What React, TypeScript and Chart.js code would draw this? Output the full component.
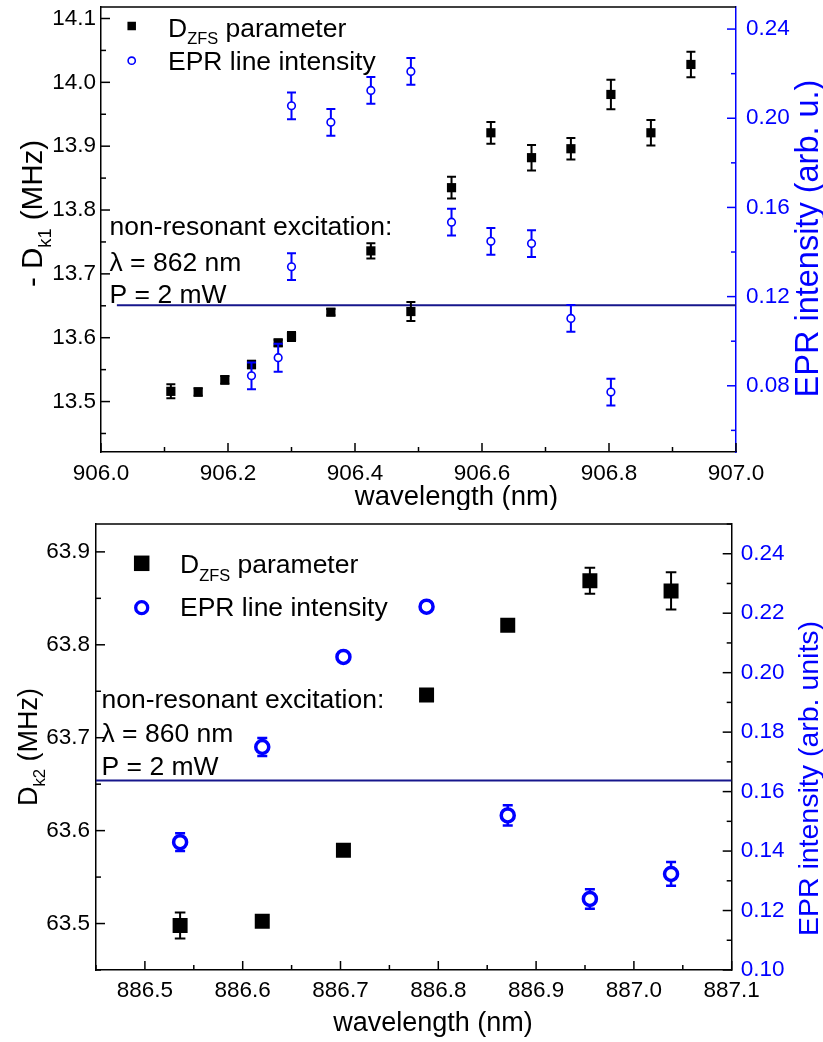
import React, { useEffect, useRef } from 'react';
import { Chart, registerables } from 'chart.js';

Chart.register(...registerables);

const FONT = "'Liberation Sans', Arial, Helvetica, sans-serif";
const BLUE = '#0000ff';
const NAVY = '#16168c';

// ---------- top panel (906 nm region) ----------
const wl1D = [906.110, 906.153, 906.195, 906.237, 906.279, 906.300, 906.362, 906.425, 906.488, 906.552, 906.614, 906.678, 906.740, 906.803, 906.866, 906.929];
const dzfs1 = [13.516, 13.515, 13.534, 13.558, 13.592, 13.602, 13.640, 13.736, 13.641, 13.835, 13.921, 13.882, 13.896, 13.981, 13.921, 14.028];
const dzfs1Err = [0.011, 0.006, 0.006, 0.006, 0.005, 0.007, 0.005, 0.012, 0.015, 0.017, 0.017, 0.020, 0.017, 0.023, 0.020, 0.020];
const wl1E = [906.237, 906.279, 906.300, 906.300, 906.362, 906.425, 906.488, 906.552, 906.614, 906.678, 906.740, 906.803];
const epr1 = [0.0845, 0.0926, 0.1334, 0.2056, 0.1982, 0.2125, 0.2210, 0.1534, 0.1448, 0.1438, 0.1102, 0.0772];
const epr1Err = [0.006, 0.0063, 0.006, 0.006, 0.006, 0.006, 0.006, 0.006, 0.006, 0.006, 0.006, 0.006];
const hline1X = [906.025, 907.0];
const hline1Y = 13.651;
const annot1 = ['non-resonant excitation:', 'λ = 862 nm', 'P = 2 mW'];

// ---------- bottom panel (886 nm region) ----------
const wl2 = [886.536, 886.620, 886.703, 886.788, 886.871, 886.955, 887.038];
const dzfs2 = [63.498, 63.5025, 63.579, 63.746, 63.821, 63.869, 63.858];
const dzfs2Err = [0.014, 0.004, 0.002, 0.002, 0.004, 0.014, 0.020];
const epr2 = [0.143, 0.175, 0.2053, 0.2222, 0.152, 0.1239, 0.1323];
const epr2Err = [0.003, 0.003, 0.001, 0.001, 0.0034, 0.0033, 0.004];
const hline2X = [886.45, 887.1];
const hline2Y = 63.654;
const annot2 = ['non-resonant excitation:', 'λ = 860 nm', 'P = 2 mW'];

type Part = { t: string; sub?: boolean };

function isMajor(v: number, step: number) {
  const r = v / step;
  return Math.abs(r - Math.round(r)) < 1e-6;
}

function partsWidth(ctx: CanvasRenderingContext2D, parts: Part[], size: number) {
  let w = 0;
  for (const p of parts) {
    ctx.font = `${p.sub ? size * 0.62 : size}px ${FONT}`;
    w += ctx.measureText(p.t).width;
  }
  return w;
}

function drawParts(ctx: CanvasRenderingContext2D, parts: Part[], x: number, y: number, size: number, center = false) {
  let cx = center ? x - partsWidth(ctx, parts, size) / 2 : x;
  ctx.textAlign = 'left';
  ctx.textBaseline = 'alphabetic';
  for (const p of parts) {
    const s = p.sub ? size * 0.62 : size;
    ctx.font = `${s}px ${FONT}`;
    ctx.fillText(p.t, cx, p.sub ? y + size * 0.29 : y);
    cx += ctx.measureText(p.t).width;
  }
}

const errorBarPlugin = {
  id: 'errorBars',
  beforeDatasetDraw(chart: any, args: any) {
    const ds = chart.data.datasets[args.index];
    if (!ds.errors) return;
    const meta = args.meta;
    const xs = chart.scales[meta.xAxisID];
    const ys = chart.scales[meta.yAxisID];
    const ctx = chart.ctx;
    ctx.save();
    ctx.strokeStyle = ds.errorColor;
    ctx.lineWidth = ds.errorWidth;
    ds.data.forEach((pt: any, j: number) => {
      const e = ds.errors[j];
      const px = xs.getPixelForValue(pt.x);
      const y1 = ys.getPixelForValue(pt.y + e);
      const y2 = ys.getPixelForValue(pt.y - e);
      const c = ds.capHalf;
      ctx.beginPath();
      ctx.moveTo(px, y1); ctx.lineTo(px, y2);
      ctx.moveTo(px - c, y1); ctx.lineTo(px + c, y1);
      ctx.moveTo(px - c, y2); ctx.lineTo(px + c, y2);
      ctx.stroke();
    });
    ctx.restore();
  },
};

type TickSpec = { id: string; major: number; color: string };

type Decor = {
  ticks: TickSpec[];
  frameColor: string;
  legend: { sq: [number, number, number]; circ: [number, number, number, number]; textX: number; y1: number; y2: number; size: number };
  annot: { x: number; ys: number[]; lines: string[]; size: number };
  xTitle: { x: number; y: number; size: number };
  yTitle: { x: number; y: number; parts: Part[]; size: number };
  rTitle: { x: number; y: number; text: string; size: number };
};

function makeDecorPlugin(d: Decor) {
  return {
    id: 'decor',
    afterDraw(chart: any) {
      const ctx: CanvasRenderingContext2D = chart.ctx;
      const a = chart.chartArea;
      ctx.save();
      // inward tick marks
      for (const t of d.ticks) {
        const s = chart.scales[t.id];
        ctx.strokeStyle = t.color;
        ctx.lineWidth = 1.5;
        for (const tk of s.ticks) {
          const len = isMajor(tk.value, t.major) ? 9 : 5;
          const p = s.getPixelForValue(tk.value);
          ctx.beginPath();
          if (s.isHorizontal()) {
            ctx.moveTo(p, a.bottom); ctx.lineTo(p, a.bottom - len);
          } else if (s.position === 'left') {
            ctx.moveTo(a.left, p); ctx.lineTo(a.left + len, p);
          } else {
            ctx.moveTo(a.right, p); ctx.lineTo(a.right - len, p);
          }
          ctx.stroke();
        }
      }
      // top frame line
      ctx.strokeStyle = d.frameColor;
      ctx.lineWidth = 1.5;
      ctx.beginPath();
      ctx.moveTo(a.left, a.top); ctx.lineTo(a.right, a.top);
      ctx.stroke();

      // legend
      const L = d.legend;
      ctx.fillStyle = '#000';
      ctx.fillRect(L.sq[0] - L.sq[2] / 2, L.sq[1] - L.sq[2] / 2, L.sq[2], L.sq[2]);
      ctx.beginPath();
      ctx.arc(L.circ[0], L.circ[1], L.circ[2], 0, Math.PI * 2);
      ctx.fillStyle = '#fff';
      ctx.fill();
      ctx.strokeStyle = BLUE;
      ctx.lineWidth = L.circ[3];
      ctx.stroke();
      ctx.fillStyle = '#000';
      drawParts(ctx, [{ t: 'D' }, { t: 'ZFS', sub: true }, { t: ' parameter' }], L.textX, L.y1, L.size);
      drawParts(ctx, [{ t: 'EPR line intensity' }], L.textX, L.y2, L.size);

      // annotation text
      d.annot.lines.forEach((ln, i) => {
        drawParts(ctx, [{ t: ln }], d.annot.x, d.annot.ys[i], d.annot.size);
      });

      // x title
      drawParts(ctx, [{ t: 'wavelength (nm)' }], d.xTitle.x, d.xTitle.y, d.xTitle.size, true);

      // left title (rotated)
      ctx.save();
      ctx.translate(d.yTitle.x, d.yTitle.y);
      ctx.rotate(-Math.PI / 2);
      drawParts(ctx, d.yTitle.parts, 0, 0, d.yTitle.size, true);
      ctx.restore();

      // right title (rotated, blue)
      ctx.save();
      ctx.fillStyle = BLUE;
      ctx.translate(d.rTitle.x, d.rTitle.y);
      ctx.rotate(-Math.PI / 2);
      drawParts(ctx, [{ t: d.rTitle.text }], 0, 0, d.rTitle.size, true);
      ctx.restore();

      ctx.restore();
    },
  };
}

function linScale(opts: {
  pos: 'left' | 'right' | 'bottom';
  min: number; max: number; step: number; major: number; digits: number;
  labelColor: string; borderColor: string; size: number; pad: number;
}) {
  const horizontal = opts.pos === 'bottom';
  return {
    type: 'linear',
    position: opts.pos,
    min: opts.min,
    max: opts.max,
    grid: { display: false, drawTicks: false },
    border: { display: true, color: opts.borderColor, width: 1.5 },
    ticks: {
      stepSize: opts.step,
      includeBounds: false,
      autoSkip: false,
      maxRotation: 0,
      minRotation: 0,
      padding: opts.pad,
      color: opts.labelColor,
      font: { size: 22.5, family: FONT },
      callback: (v: any) => (isMajor(Number(v), opts.major) ? Number(v).toFixed(opts.digits) : ''),
    },
    afterFit: (s: any) => {
      if (horizontal) s.height = opts.size;
      else s.width = opts.size;
      s.paddingTop = 0;
      s.paddingBottom = 0;
      s.paddingLeft = 0;
      s.paddingRight = 0;
    },
  };
}

function pts(xs: number[], ys: number[]) {
  return xs.map((x, i) => ({ x, y: ys[i] }));
}

function config1(): any {
  return {
    type: 'scatter',
    data: {
      datasets: [
        {
          label: 'hline',
          data: hline1X.map((x) => ({ x, y: hline1Y })),
          showLine: true,
          borderColor: NAVY,
          borderWidth: 2,
          pointRadius: 0,
          yAxisID: 'y',
          order: 3,
        },
        {
          label: 'D_ZFS parameter',
          data: pts(wl1D, dzfs1),
          errors: dzfs1Err,
          errorColor: '#000',
          errorWidth: 2,
          capHalf: 4.5,
          pointStyle: 'rect',
          pointRadius: 6.5,
          backgroundColor: '#000',
          borderWidth: 0,
          yAxisID: 'y',
          order: 2,
        },
        {
          label: 'EPR line intensity',
          data: pts(wl1E, epr1),
          errors: epr1Err,
          errorColor: BLUE,
          errorWidth: 2,
          capHalf: 4.5,
          pointStyle: 'circle',
          pointRadius: 3.8,
          backgroundColor: '#fff',
          borderColor: BLUE,
          borderWidth: 1.6,
          yAxisID: 'y1',
          order: 1,
        },
      ],
    },
    options: {
      animation: false,
      responsive: false,
      devicePixelRatio: 1,
      layout: { padding: { top: 7, left: 0, right: 0, bottom: 0 } },
      plugins: { legend: { display: false }, tooltip: { enabled: false } },
      scales: {
        x: linScale({ pos: 'bottom', min: 906.0, max: 907.0, step: 0.1, major: 0.2, digits: 1, labelColor: '#000', borderColor: '#000', size: 58, pad: 8 }),
        y: linScale({ pos: 'left', min: 13.421, max: 14.118, step: 0.05, major: 0.1, digits: 1, labelColor: '#000', borderColor: '#000', size: 101, pad: 5 }),
        y1: linScale({ pos: 'right', min: 0.0503, max: 0.2499, step: 0.02, major: 0.04, digits: 2, labelColor: BLUE, borderColor: BLUE, size: 87, pad: 10 }),
      },
    },
    plugins: [
      errorBarPlugin,
      makeDecorPlugin({
        ticks: [
          { id: 'x', major: 0.2, color: '#000' },
          { id: 'y', major: 0.1, color: '#000' },
          { id: 'y1', major: 0.04, color: BLUE },
        ],
        frameColor: '#000',
        legend: { sq: [131.7, 26, 8.5], circ: [131.7, 60.7, 3.6, 1.6], textX: 168, y1: 36.7, y2: 69.5, size: 26.5 },
        annot: { x: 109.5, ys: [235, 270.7, 303.3], lines: annot1, size: 26.5 },
        xTitle: { x: 456.5, y: 505, size: 27.5 },
        yTitle: { x: 42, y: 213.5, parts: [{ t: '- D' }, { t: 'k1', sub: true }, { t: ' (MHz)' }], size: 29.5 },
        rTitle: { x: 818, y: 238.5, text: 'EPR intensity (arb. u.)', size: 32.5 },
      }),
    ],
  };
}

function config2(): any {
  return {
    type: 'scatter',
    data: {
      datasets: [
        {
          label: 'hline',
          data: hline2X.map((x) => ({ x, y: hline2Y })),
          showLine: true,
          borderColor: NAVY,
          borderWidth: 2,
          pointRadius: 0,
          yAxisID: 'y',
          order: 3,
        },
        {
          label: 'D_ZFS parameter',
          data: pts(wl2, dzfs2),
          errors: dzfs2Err,
          errorColor: '#000',
          errorWidth: 2,
          capHalf: 5.3,
          pointStyle: 'rect',
          pointRadius: 10.6,
          backgroundColor: '#000',
          borderWidth: 0,
          yAxisID: 'y',
          order: 2,
        },
        {
          label: 'EPR line intensity',
          data: pts(wl2, epr2),
          errors: epr2Err,
          errorColor: BLUE,
          errorWidth: 2.5,
          capHalf: 5,
          pointStyle: 'circle',
          pointRadius: 6.5,
          backgroundColor: '#fff',
          borderColor: BLUE,
          borderWidth: 3.5,
          yAxisID: 'y1',
          order: 1,
        },
      ],
    },
    options: {
      animation: false,
      responsive: false,
      devicePixelRatio: 1,
      layout: { padding: { top: 14, left: 0, right: 0, bottom: 0 } },
      plugins: { legend: { display: false }, tooltip: { enabled: false } },
      scales: {
        x: linScale({ pos: 'bottom', min: 886.45, max: 887.1, step: 0.05, major: 0.1, digits: 1, labelColor: '#000', borderColor: '#000', size: 72, pad: 7 }),
        y: linScale({ pos: 'left', min: 63.45, max: 63.93, step: 0.05, major: 0.1, digits: 1, labelColor: '#000', borderColor: '#000', size: 96, pad: 6 }),
        y1: linScale({ pos: 'right', min: 0.10, max: 0.25, step: 0.01, major: 0.02, digits: 2, labelColor: BLUE, borderColor: '#000', size: 91.3, pad: 9 }),
      },
    },
    plugins: [
      errorBarPlugin,
      makeDecorPlugin({
        ticks: [
          { id: 'x', major: 0.1, color: '#000' },
          { id: 'y', major: 0.1, color: '#000' },
          { id: 'y1', major: 0.02, color: '#000' },
        ],
        frameColor: '#000',
        legend: { sq: [141.7, 53.3, 15.5], circ: [141.7, 97.7, 6, 3.3], textX: 180, y1: 63, y2: 106, size: 26.5 },
        annot: { x: 101.5, ys: [198, 231.7, 265], lines: annot2, size: 26.5 },
        xTitle: { x: 433, y: 521, size: 27 },
        yTitle: { x: 37, y: 237, parts: [{ t: 'D' }, { t: 'k2', sub: true }, { t: ' (MHz)' }], size: 27 },
        rTitle: { x: 818, y: 268.5, text: 'EPR intensity (arb. units)', size: 28.5 },
      }),
    ],
  };
}

export default function App() {
  const r1 = useRef<HTMLCanvasElement>(null);
  const r2 = useRef<HTMLCanvasElement>(null);

  useEffect(() => {
    const c1 = new Chart(r1.current as HTMLCanvasElement, config1());
    const c2 = new Chart(r2.current as HTMLCanvasElement, config2());
    return () => {
      c1.destroy();
      c2.destroy();
    };
  }, []);

  return (
    <div style={{ position: 'absolute', left: 0, top: 0, width: 823, height: 1042, background: '#fff' }}>
      <canvas ref={r1} width={823} height={510} style={{ position: 'absolute', left: 0, top: 0, width: 823, height: 510 }} />
      <canvas ref={r2} width={823} height={532} style={{ position: 'absolute', left: 0, top: 510, width: 823, height: 532 }} />
    </div>
  );
}
